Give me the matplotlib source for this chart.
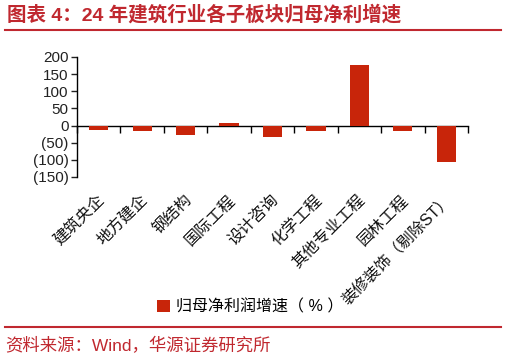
import numpy as np
import matplotlib
matplotlib.use("Agg")
import matplotlib.pyplot as plt
from matplotlib.ticker import FuncFormatter, FixedLocator

plt.rcParams['font.family'] = ['Liberation Sans', 'Noto Sans CJK SC', 'DejaVu Sans']

# data
categories = ['建筑央企', '地方建企', '钢结构', '国际工程', '设计咨询',
              '化学工程', '其他专业工程', '园林工程', '装修装饰（剔除ST）']
growth = [-13, -17, -27, 8, -33, -17, 175, -15, -107]
series_name = '归母净利润增速（ % ）'
title = '图表 4：24 年建筑行业各子板块归母净利增速'
source = '资料来源：Wind，华源证券研究所'

red_dark = '#C0282F'
bar_red = '#C8250A'

fig = plt.figure(figsize=(5.06, 3.61), dpi=100)
ax = fig.add_axes([0.152, 0.5097, 0.773, 0.3327])

x = np.arange(len(categories))
ax.bar(x, growth, width=0.44, color=bar_red, label=series_name, zorder=3)

ax.set_xlim(-0.5, len(categories) - 0.5)
ax.set_ylim(-150, 200)
ax.set_yticks(np.arange(-150, 201, 50))
ax.yaxis.set_major_formatter(FuncFormatter(
    lambda v, p: f'({abs(int(v))})' if v < 0 else f'{int(v)}'))
ax.tick_params(axis='y', length=4, width=1, labelsize=11, pad=2, colors='#222222')

for s in ['top', 'right']:
    ax.spines[s].set_visible(False)
ax.spines['left'].set_linewidth(1)
ax.spines['bottom'].set_position(('data', 0))
ax.spines['bottom'].set_linewidth(1)

# ticks at category boundaries on the zero line
ax.xaxis.set_major_locator(FixedLocator(np.arange(len(categories) + 1) - 0.5))
ax.tick_params(axis='x', direction='out', length=5, width=1, labelbottom=False)

# category labels below the plot area
trans = ax.get_xaxis_transform()
for xi, lab in zip(x, categories):
    ax.text(xi + 0.08, -0.17, lab, transform=trans, rotation=45,
            rotation_mode='anchor', ha='right', va='center', fontsize=11.5,
            color='#111111')

fig.legend(loc='center', bbox_to_anchor=(0.495, 0.15), frameon=False,
           fontsize=11.5, handlelength=0.8, handleheight=0.8,
           handletextpad=0.4)

# title, rules and source
fig.text(0.014, 0.958, title, fontsize=14, fontweight='bold', color=red_dark,
         va='center', ha='left')
fig.add_artist(plt.Line2D([0.01, 0.99], [0.917, 0.917], color=red_dark, lw=1.5))
fig.add_artist(plt.Line2D([0.01, 0.99], [0.094, 0.094], color=red_dark, lw=1.5))
fig.text(0.01, 0.042, source, fontsize=12.5, color=red_dark, va='center', ha='left')

fig.savefig('out.png', dpi=100)
